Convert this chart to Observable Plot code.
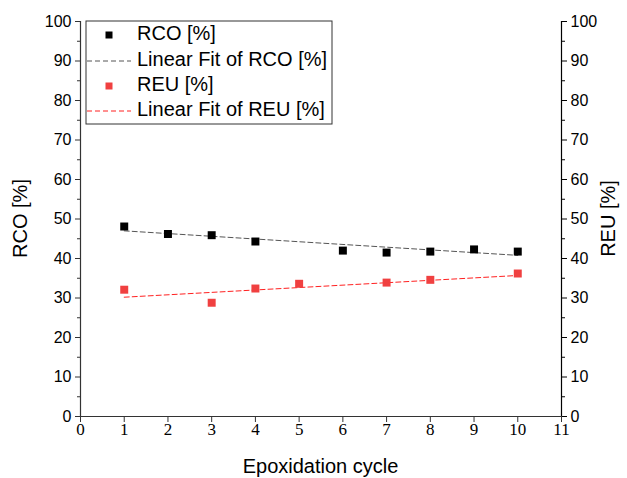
<!DOCTYPE html>
<html>
<head>
<meta charset="utf-8">
<script src="https://cdn.jsdelivr.net/npm/d3@7"></script>
<script src="https://cdn.jsdelivr.net/npm/@observablehq/plot@0.6"></script>
<style>
  html, body { margin: 0; padding: 0; background: #fff; }
  #chart { width: 627px; height: 478px; }
</style>
</head>
<body>
<div id="chart"></div>
<script>
// ---- data ----
const rcoCycles = [1, 2, 3, 4, 6, 7, 8, 9, 10];
const rcoValues = [48.1, 46.2, 45.9, 44.3, 42.0, 41.5, 41.75, 42.3, 41.75];
const reuCycles = [1, 3, 4, 5, 7, 8, 10];
const reuValues = [32.1, 28.8, 32.4, 33.6, 33.9, 34.6, 36.2];
const fitCycles = [1, 10];
const rcoFit = [47.0, 40.8];
const reuFit = [30.2, 35.7];
const xTicks = [0, 1, 2, 3, 4, 5, 6, 7, 8, 9, 10, 11];
const yTicks = [0, 10, 20, 30, 40, 50, 60, 70, 80, 90, 100];
const yMinor = [5, 15, 25, 35, 45, 55, 65, 75, 85, 95];
const legendLabels = ["RCO [%]", "Linear Fit of RCO [%]", "REU [%]", "Linear Fit of REU [%]"];

const rco = rcoCycles.map((c, i) => ({x: c, y: rcoValues[i]}));
const reu = reuCycles.map((c, i) => ({x: c, y: reuValues[i]}));
const rcoFitData = fitCycles.map((c, i) => ({x: c, y: rcoFit[i]}));
const reuFitData = fitCycles.map((c, i) => ({x: c, y: reuFit[i]}));

const RED = "#f04040";
const sans = "'Liberation Sans', Arial, sans-serif";
const serif = "'Liberation Serif', 'Times New Roman', serif";

const W = 627, H = 478;
const mL = 80, mR = 66, mT = 21, mB = 62;

const plot = Plot.plot({
  width: W,
  height: H,
  marginLeft: mL,
  marginRight: mR,
  marginTop: mT,
  marginBottom: mB,
  style: {fontFamily: sans, background: "#fff", color: "#000"},
  x: {domain: [0, 11]},
  y: {domain: [0, 100]},
  marks: [
    // axes lines
    Plot.ruleX([0], {stroke: "#333", strokeWidth: 1.2}),
    Plot.ruleX([11], {stroke: "#000", strokeWidth: 1.2}),
    Plot.ruleY([0], {stroke: "#333", strokeWidth: 1.2}),
    // x axis
    Plot.axisX(xTicks, {anchor: "bottom", tickSize: 6, tickPadding: 0, fontFamily: serif, fontSize: 17, stroke: "#333", label: null, tickFormat: d => String(d)}),
    // left y axis
    Plot.axisY(yTicks, {anchor: "left", tickSize: 5, tickPadding: 4, fontSize: 16, stroke: "#333", label: null, tickFormat: d => String(d)}),
    Plot.axisY(yMinor, {anchor: "left", tickSize: 3, text: null, stroke: "#333", label: null}),
    // right y axis
    Plot.axisY(yTicks, {anchor: "right", tickSize: 5, tickPadding: 4, fontSize: 16, stroke: "#000", label: null, tickFormat: d => String(d)}),
    Plot.axisY(yMinor, {anchor: "right", tickSize: 3, text: null, stroke: "#000", label: null}),
    // fit lines
    Plot.line(rcoFitData, {x: "x", y: "y", stroke: "#555", strokeWidth: 1, strokeDasharray: "5,3"}),
    Plot.line(reuFitData, {x: "x", y: "y", stroke: "#ff2020", strokeWidth: 1, strokeDasharray: "5,3"}),
    // points
    Plot.dot(rco, {x: "x", y: "y", symbol: "square", r: 4.5, fill: "#000", stroke: "none"}),
    Plot.dot(reu, {x: "x", y: "y", symbol: "square", r: 4.5, fill: RED, stroke: "none"})
  ]
});

document.getElementById("chart").appendChild(plot);

// axis titles and legend
const svg = d3.select(plot);
const plotTop = mT, plotBottom = H - mB;
const cy = (plotTop + plotBottom) / 2;

svg.append("text")
  .attr("x", (mL + W - mR) / 2).attr("y", 468)
  .attr("text-anchor", "middle").attr("dominant-baseline", "middle")
  .style("font-family", sans).style("font-size", "20px").attr("fill", "#000")
  .text("Epoxidation cycle");

svg.append("text")
  .attr("transform", `translate(22,${cy}) rotate(-90)`)
  .attr("text-anchor", "middle").attr("dominant-baseline", "middle")
  .style("font-family", sans).style("font-size", "20px").attr("fill", "#000")
  .text("RCO [%]");

svg.append("text")
  .attr("transform", `translate(610,${cy}) rotate(-90)`)
  .attr("text-anchor", "middle").attr("dominant-baseline", "middle")
  .style("font-family", sans).style("font-size", "20px").attr("fill", "#000")
  .text("REU [%]");

const lg = svg.append("g").attr("text-anchor", "start");
lg.append("rect")
  .attr("x", 86).attr("y", 21).attr("width", 246).attr("height", 103)
  .attr("fill", "#fff").attr("stroke", "#333").attr("stroke-width", 1);
const rowsY = [35, 61, 86, 111];
const kinds = [
  {type: "sq", color: "#000"},
  {type: "ln", color: "#555"},
  {type: "sq", color: RED},
  {type: "ln", color: "#ff2020"}
];
kinds.forEach((k, i) => {
  const y = rowsY[i];
  if (k.type === "sq") {
    lg.append("rect").attr("x", 105.5).attr("y", y - 3.5).attr("width", 7).attr("height", 7).attr("fill", k.color);
  } else {
    lg.append("line").attr("x1", 87).attr("x2", 131).attr("y1", y).attr("y2", y)
      .attr("stroke", k.color).attr("stroke-width", 1).attr("stroke-dasharray", "5,3");
  }
  lg.append("text").attr("x", 137).attr("y", y).attr("dominant-baseline", "middle")
    .attr("text-anchor", "start")
    .style("font-family", sans).style("font-size", "20px").attr("fill", "#000")
    .text(legendLabels[i]);
});
</script>
</body>
</html>
